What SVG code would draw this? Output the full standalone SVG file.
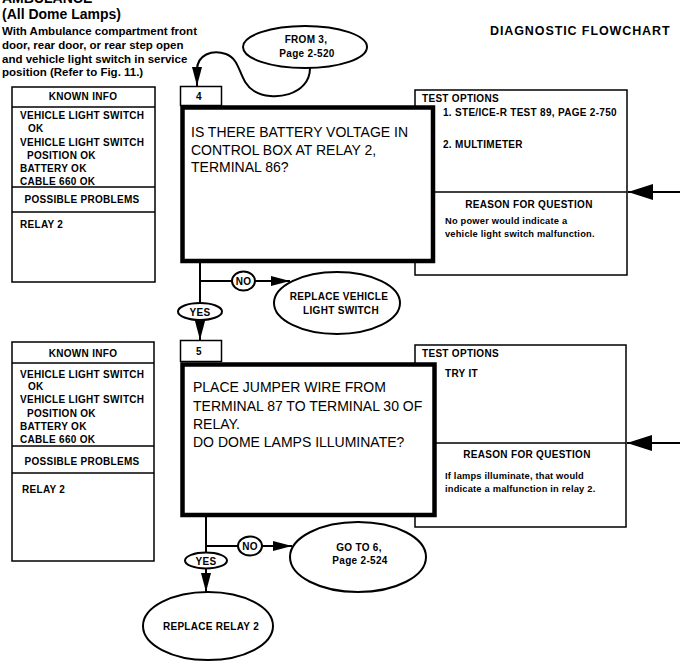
<svg xmlns="http://www.w3.org/2000/svg" width="688" height="671" viewBox="0 0 688 671">
<style>
.lbl{font-family:"Liberation Sans",Arial,sans-serif;font-weight:bold;font-size:10px;letter-spacing:0.3px;fill:#000}
.sm{font-family:"Liberation Sans",Arial,sans-serif;font-weight:bold;font-size:9.3px;letter-spacing:0.2px;fill:#000}
.q{font-family:"Liberation Sans",Arial,sans-serif;font-size:14px;fill:#000}
.hd{font-family:"Liberation Sans",Arial,sans-serif;font-weight:bold;fill:#000}
.c{text-anchor:middle}
.thin{fill:#fff;stroke:#000;stroke-width:1.5}
.thick{fill:#fff;stroke:#000;stroke-width:4.5}
.ell{fill:#fff;stroke:#000;stroke-width:2}
.ln{fill:none;stroke:#000;stroke-width:1.5}
.cn{fill:none;stroke:#000;stroke-width:2}
</style>
<defs>
<marker id="ah" markerUnits="userSpaceOnUse" markerWidth="20" markerHeight="12" refX="19" refY="5" orient="auto">
<path d="M0,0 L19,5 L0,10 z" fill="#000"/>
</marker>
<marker id="bh" markerUnits="userSpaceOnUse" markerWidth="26" markerHeight="18" refX="25" refY="8" orient="auto">
<path d="M0,0 L25,8 L0,16 z" fill="#000"/>
</marker>
</defs>

<g id="title">
<text class="hd" x="2" y="3" font-size="14">AMBULANCE</text>
<text class="hd" x="2" y="19" font-size="14">(All Dome Lamps)</text>
<text class="hd" x="2" y="35" font-size="11.5">With Ambulance compartment front</text>
<text class="hd" x="2" y="49" font-size="11.5">door, rear door, or rear step open</text>
<text class="hd" x="2" y="63" font-size="11.5">and vehicle light switch in service</text>
<text class="hd" x="2" y="76" font-size="11.5">position  (Refer to Fig. 11.)</text>
<text class="hd" x="490" y="35" font-size="12.5" letter-spacing="0.9">DIAGNOSTIC FLOWCHART</text>
</g>

<g id="from3">
<ellipse class="ell" cx="305" cy="47" rx="62" ry="21"/>
<text class="lbl c" x="306" y="43" font-size="10.5">FROM 3,</text>
<text class="lbl c" x="307" y="57" font-size="10.5">Page 2-520</text>
</g>

<g id="known4">
<rect class="thin" x="12" y="87" width="143" height="195"/>
<line class="ln" x1="12" y1="107" x2="155" y2="107"/>
<line class="ln" x1="12" y1="187" x2="155" y2="187"/>
<line class="ln" x1="12" y1="212" x2="155" y2="212"/>
<text class="lbl c" x="83" y="100">KNOWN INFO</text>
<text class="lbl" x="20" y="119">VEHICLE LIGHT SWITCH</text>
<text class="lbl" x="28" y="132">OK</text>
<text class="lbl" x="20" y="146">VEHICLE LIGHT SWITCH</text>
<text class="lbl" x="27" y="159">POSITION OK</text>
<text class="lbl" x="20" y="172">BATTERY OK</text>
<text class="lbl" x="20" y="185">CABLE 660 OK</text>
<text class="lbl c" x="82" y="203">POSSIBLE PROBLEMS</text>
<text class="lbl" x="20" y="228">RELAY 2</text>
</g>

<g id="test4">
<rect class="thin" x="415" y="90" width="212" height="185"/>
<line class="ln" x1="434" y1="192" x2="627" y2="192"/>
<text class="lbl" x="422" y="102">TEST OPTIONS</text>
<text class="lbl" x="443" y="116">1. STE/ICE-R TEST 89, PAGE 2-750</text>
<text class="lbl" x="443" y="148">2. MULTIMETER</text>
<text class="lbl c" x="529" y="208">REASON FOR QUESTION</text>
<text class="sm" x="445" y="224">No power would indicate a</text>
<text class="sm" x="445" y="237">vehicle light switch malfunction.</text>
</g>

<g id="step4">
<rect class="thin" x="180.5" y="86.5" width="41" height="19"/>
<text class="lbl c" x="199" y="100" font-size="11">4</text>
<rect class="thick" x="182.5" y="107.5" width="250.5" height="153.5"/>
<text class="q" x="191" y="137">IS THERE BATTERY VOLTAGE IN</text>
<text class="q" x="191" y="155">CONTROL BOX AT RELAY 2,</text>
<text class="q" x="191" y="172">TERMINAL 86?</text>
</g>

<g id="no4">
<ellipse class="ell" cx="243.5" cy="281" rx="11.5" ry="9.5"/>
<text class="lbl c" x="243.5" y="285" letter-spacing="0">NO</text>
</g>
<g id="yes4">
<ellipse class="ell" cx="200" cy="311.5" rx="22" ry="8.5"/>
<text class="lbl c" x="200" y="315.5">YES</text>
</g>
<g id="replaceSwitch">
<ellipse class="ell" cx="337" cy="303" rx="63" ry="31"/>
<text class="lbl c" x="339" y="300">REPLACE VEHICLE</text>
<text class="lbl c" x="341" y="314">LIGHT SWITCH</text>
</g>

<g id="known5">
<rect class="thin" x="12" y="342" width="142" height="219"/>
<line class="ln" x1="12" y1="363" x2="154" y2="363"/>
<line class="ln" x1="12" y1="446" x2="154" y2="446"/>
<line class="ln" x1="12" y1="473" x2="154" y2="473"/>
<text class="lbl c" x="83" y="357">KNOWN INFO</text>
<text class="lbl" x="20" y="378">VEHICLE LIGHT SWITCH</text>
<text class="lbl" x="28" y="390">OK</text>
<text class="lbl" x="20" y="403">VEHICLE LIGHT SWITCH</text>
<text class="lbl" x="27" y="417">POSITION OK</text>
<text class="lbl" x="20" y="430">BATTERY OK</text>
<text class="lbl" x="20" y="443">CABLE 660 OK</text>
<text class="lbl c" x="82" y="465">POSSIBLE PROBLEMS</text>
<text class="lbl" x="22" y="493">RELAY 2</text>
</g>

<g id="test5">
<rect class="thin" x="415" y="345" width="211" height="182"/>
<line class="ln" x1="435" y1="443" x2="626" y2="443"/>
<text class="lbl" x="422" y="357">TEST OPTIONS</text>
<text class="lbl" x="445" y="377">TRY IT</text>
<text class="lbl c" x="527" y="458">REASON FOR QUESTION</text>
<text class="sm" x="445" y="479">If lamps illuminate, that would</text>
<text class="sm" x="445" y="492">indicate a malfunction in relay 2.</text>
</g>

<g id="step5">
<rect class="thin" x="180.5" y="340.5" width="41" height="21"/>
<text class="lbl c" x="199" y="355" font-size="11">5</text>
<rect class="thick" x="182.5" y="364.5" width="252" height="150.5"/>
<text class="q" x="193" y="392">PLACE JUMPER WIRE FROM</text>
<text class="q" x="193" y="411">TERMINAL 87 TO TERMINAL 30 OF</text>
<text class="q" x="193" y="429">RELAY.</text>
<text class="q" x="193" y="447">DO DOME LAMPS ILLUMINATE?</text>
</g>

<g id="no5">
<ellipse class="ell" cx="250" cy="546" rx="12" ry="9.5"/>
<text class="lbl c" x="250" y="550" letter-spacing="0">NO</text>
</g>
<g id="yes5">
<ellipse class="ell" cx="206" cy="560.5" rx="21" ry="8"/>
<text class="lbl c" x="206" y="564.5">YES</text>
</g>
<g id="goto6">
<ellipse class="ell" cx="358" cy="557" rx="68" ry="35"/>
<text class="lbl c" x="359" y="551">GO TO 6,</text>
<text class="lbl c" x="360" y="564">Page 2-524</text>
</g>
<g id="replaceRelay">
<ellipse class="ell" cx="208" cy="626" rx="65" ry="34"/>
<text class="lbl c" x="211" y="630">REPLACE RELAY 2</text>
</g>

<g id="connectors">
<path class="cn" d="M310,68 C310,96 272,102 254,91 C238,81 242,60 226,54 C212,49 197,55 197,70 L197,86" marker-end="url(#ah)"/>
<line class="cn" x1="200" y1="263" x2="200" y2="303"/>
<line class="cn" x1="200" y1="281" x2="232" y2="281"/>
<line class="cn" x1="255" y1="281" x2="290" y2="281" marker-end="url(#ah)"/>
<line class="cn" x1="200" y1="320" x2="200" y2="340" marker-end="url(#ah)"/>
<line class="cn" x1="680" y1="192" x2="628" y2="192" stroke-width="4" marker-end="url(#bh)"/>
<line class="cn" x1="206" y1="517" x2="206" y2="552.5"/>
<line class="cn" x1="206" y1="546" x2="238" y2="546"/>
<line class="cn" x1="262" y1="546" x2="292" y2="546" marker-end="url(#ah)"/>
<line class="cn" x1="206" y1="568.5" x2="206" y2="592" marker-end="url(#ah)"/>
<line class="cn" x1="680" y1="443" x2="627" y2="443" stroke-width="4" marker-end="url(#bh)"/>
</g>
</svg>
